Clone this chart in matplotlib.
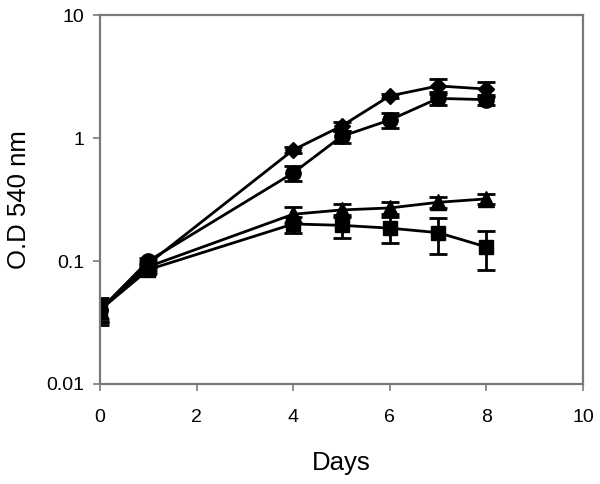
import matplotlib
matplotlib.use("Agg")
import matplotlib.pyplot as plt
from matplotlib import font_manager as fm
from matplotlib.ticker import FixedLocator, NullLocator, FixedFormatter

days = [0, 1, 4, 5, 6, 7, 8]
diamond = [0.04, 0.095, 0.80, 1.25, 2.20, 2.65, 2.50]
diamond_err = [0.006, 0.005, 0.05, 0.10, 0.10, 0.35, 0.35]
circle = [0.04, 0.10, 0.52, 1.03, 1.40, 2.10, 2.05]
circle_err = [0.008, 0.005, 0.07, 0.12, 0.20, 0.25, 0.20]
triangle = [0.04, 0.09, 0.24, 0.26, 0.27, 0.30, 0.32]
triangle_err = [0.008, 0.005, 0.035, 0.03, 0.03, 0.03, 0.03]
square = [0.04, 0.085, 0.20, 0.195, 0.185, 0.17, 0.13]
square_err = [0.01, 0.005, 0.03, 0.04, 0.045, 0.055, 0.045]

y_ticks = [0.01, 0.1, 1, 10]
y_labels = ["0.01", "0.1", "1", "10"]
x_ticks = [0, 2, 4, 6, 8, 10]
x_labels = ["0", "2", "4", "6", "8", "10"]

names = {f.name for f in fm.fontManager.ttflist}
if "Liberation Sans Narrow" in names:
    fam = "Liberation Sans Narrow"
    tsize, lsize = 15, 20
else:
    fam = "Liberation Sans"
    tsize, lsize = 14, 18.5
plt.rcParams['font.family'] = [fam, 'DejaVu Sans']

fig = plt.figure(figsize=(6.0, 4.84), dpi=100)
ax = fig.add_axes([100/600, 1-384/484, 483/600, 369/484])

series = [
    (diamond, diamond_err, 'D', 8),
    (circle, circle_err, 'o', 11),
    (triangle, triangle_err, '^', 11.5),
    (square, square_err, 's', 10.5),
]
for vals, err, mk, ms in series:
    ax.errorbar(days, vals, yerr=err, color='black', marker=mk, markersize=ms,
                linewidth=2, elinewidth=2, capsize=6.5, capthick=2,
                markeredgecolor='black', markerfacecolor='black')

ax.set_yscale('log')
ax.set_ylim(0.01, 10)
ax.set_xlim(0, 10)
ax.yaxis.set_major_locator(FixedLocator(y_ticks))
ax.yaxis.set_major_formatter(FixedFormatter(y_labels))
ax.yaxis.set_minor_locator(NullLocator())
ax.set_xticks(x_ticks)
ax.set_xticklabels(x_labels)

for s in ax.spines.values():
    s.set_color('#7a7a7a')
    s.set_linewidth(1.6)
ax.tick_params(axis='both', direction='out', length=5, width=1.2, color='#7a7a7a',
               labelsize=tsize, labelcolor='black')
ax.tick_params(axis='y', pad=6)
ax.tick_params(axis='x', pad=13)

ax.set_xlabel("Days", fontsize=lsize, labelpad=18)
ax.set_ylabel("O.D 540 nm", fontsize=lsize, labelpad=11)

fig.savefig("out.png", dpi=100, facecolor='white')
